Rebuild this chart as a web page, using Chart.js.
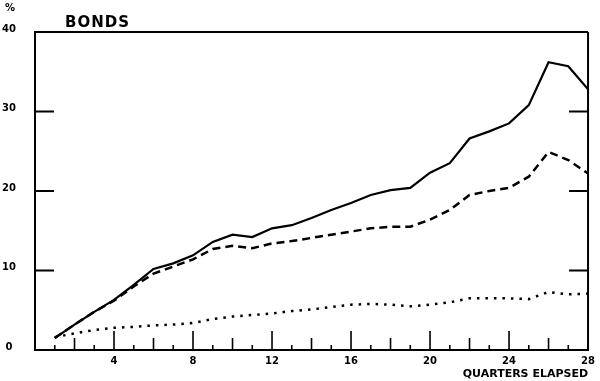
<!DOCTYPE html>
<html>
<head>
<meta charset="utf-8">
<script src="https://cdn.jsdelivr.net/npm/chart.js@4.4.1/dist/chart.umd.min.js"></script>
<style>
html,body{margin:0;padding:0;background:#fff;}
#wrap{position:relative;width:600px;height:381px;}
</style>
</head>
<body>
<div id="wrap"><canvas id="c" width="600" height="381"></canvas></div>
<script>
const quarters = [1,2,3,4,5,6,7,8,9,10,11,12,13,14,15,16,17,18,19,20,21,22,23,24,25,26,27,28];
const solidSeries = [1.5,3.2,4.8,6.3,8.2,10.2,10.9,11.9,13.6,14.5,14.2,15.3,15.7,16.6,17.6,18.5,19.5,20.1,20.4,22.3,23.5,26.6,27.5,28.5,30.8,36.2,35.7,32.8];
const dashedSeries = [1.5,3.2,4.8,6.2,8.0,9.6,10.5,11.4,12.7,13.1,12.8,13.4,13.7,14.1,14.5,14.9,15.3,15.5,15.5,16.4,17.6,19.5,20.0,20.4,21.8,24.9,23.9,22.2];
const dottedSeries = [1.6,2.1,2.5,2.8,2.9,3.1,3.2,3.4,3.9,4.2,4.4,4.6,4.9,5.1,5.4,5.7,5.8,5.7,5.5,5.7,6.0,6.5,6.5,6.5,6.4,7.3,7.0,7.1];
const xTickValues = [4,8,12,16,20,24,28];
const xTickLabels = ['4','8','12','16','20','24','28'];
const yTickValues = [0,10,20,30,40];
const yTickLabels = ['0','10','20','30','40'];
const titleText = 'BONDS';
const unitText = '%';
const xAxisTitle = 'QUARTERS ELAPSED';

function pts(arr){ return quarters.map((q,i)=>({x:q,y:arr[i]})); }

const framePlugin = {
  id:'frame',
  afterDraw(chart){
    const ctx = chart.ctx, a = chart.chartArea;
    const xs = chart.scales.x, ys = chart.scales.y;
    ctx.save();
    ctx.strokeStyle = '#000';
    ctx.lineWidth = 2;
    ctx.beginPath();
    ctx.moveTo(a.left, a.top); ctx.lineTo(a.right, a.top);
    ctx.moveTo(a.right, a.top); ctx.lineTo(a.right, a.bottom);
    ctx.stroke();
    ctx.beginPath();
    [10,20,30].forEach(v=>{
      const y = ys.getPixelForValue(v);
      ctx.moveTo(a.left, y); ctx.lineTo(a.left+19, y);
      ctx.moveTo(a.right, y); ctx.lineTo(a.right-19, y);
    });
    ctx.stroke();
    ctx.lineWidth = 1.6;
    ctx.beginPath();
    for(let q=1;q<28;q++){
      const len = q%4===0 ? 19 : (q%2===0 ? 12 : 5);
      const x = xs.getPixelForValue(q);
      ctx.moveTo(x, a.bottom); ctx.lineTo(x, a.bottom-len);
    }
    ctx.stroke();
    ctx.fillStyle = '#000';
    ctx.textBaseline = 'alphabetic';
    ctx.textAlign = 'left';
    ctx.font = 'bold 15px "DejaVu Sans"';
    try { ctx.letterSpacing = '1px'; } catch(e) {}
    ctx.fillText(titleText, 65, 27);
    try { ctx.letterSpacing = '0px'; } catch(e) {}
    ctx.font = 'bold 10px "DejaVu Sans"';
    ctx.textAlign = 'center';
    ctx.fillText(unitText, 10, 11);
    ctx.restore();
  }
};

new Chart(document.getElementById('c'), {
  type:'line',
  data:{
    datasets:[
      {data:pts(solidSeries), borderColor:'#000', borderWidth:2.2, pointRadius:0, tension:0, fill:false},
      {data:pts(dashedSeries), borderColor:'#000', borderWidth:2.5, borderDash:[8,5], pointRadius:0, tension:0, fill:false},
      {data:pts(dottedSeries), borderColor:'#000', borderWidth:2.5, borderDash:[2.5,6], pointRadius:0, tension:0, fill:false}
    ]
  },
  options:{
    responsive:false,
    animation:false,
    devicePixelRatio:1,
    layout:{padding:{top:32,right:7,left:0,bottom:0}},
    plugins:{legend:{display:false}, tooltip:{enabled:false}, title:{display:false}},
    scales:{
      x:{
        type:'linear', min:0, max:28,
        afterFit(s){ s.height = 31; },
        afterBuildTicks(s){ s.ticks = xTickValues.map(v=>({value:v})); },
        grid:{display:false, drawTicks:false},
        border:{display:true, color:'#000', width:2},
        ticks:{
          padding:5, maxRotation:0, autoSkip:false, color:'#000',
          font:{family:'DejaVu Sans', weight:'bold', size:10},
          callback(v){ const i = xTickValues.indexOf(v); return i>=0 ? xTickLabels[i] : ''; }
        },
        title:{display:true, text:xAxisTitle, align:'end', color:'#000',
          font:{family:'DejaVu Sans', weight:'bold', size:11}, padding:{top:0,bottom:0}}
      },
      y:{
        type:'linear', min:0, max:40,
        afterFit(s){ s.width = 35; },
        afterBuildTicks(s){ s.ticks = yTickValues.map(v=>({value:v})); },
        grid:{display:false, drawTicks:false},
        border:{display:true, color:'#000', width:2},
        ticks:{
          padding:19, crossAlign:'center', labelOffset:-3, color:'#000',
          font:{family:'DejaVu Sans', weight:'bold', size:10},
          callback(v){ const i = yTickValues.indexOf(v); return i>=0 ? yTickLabels[i] : ''; }
        }
      }
    }
  },
  plugins:[framePlugin]
});
</script>
</body>
</html>
